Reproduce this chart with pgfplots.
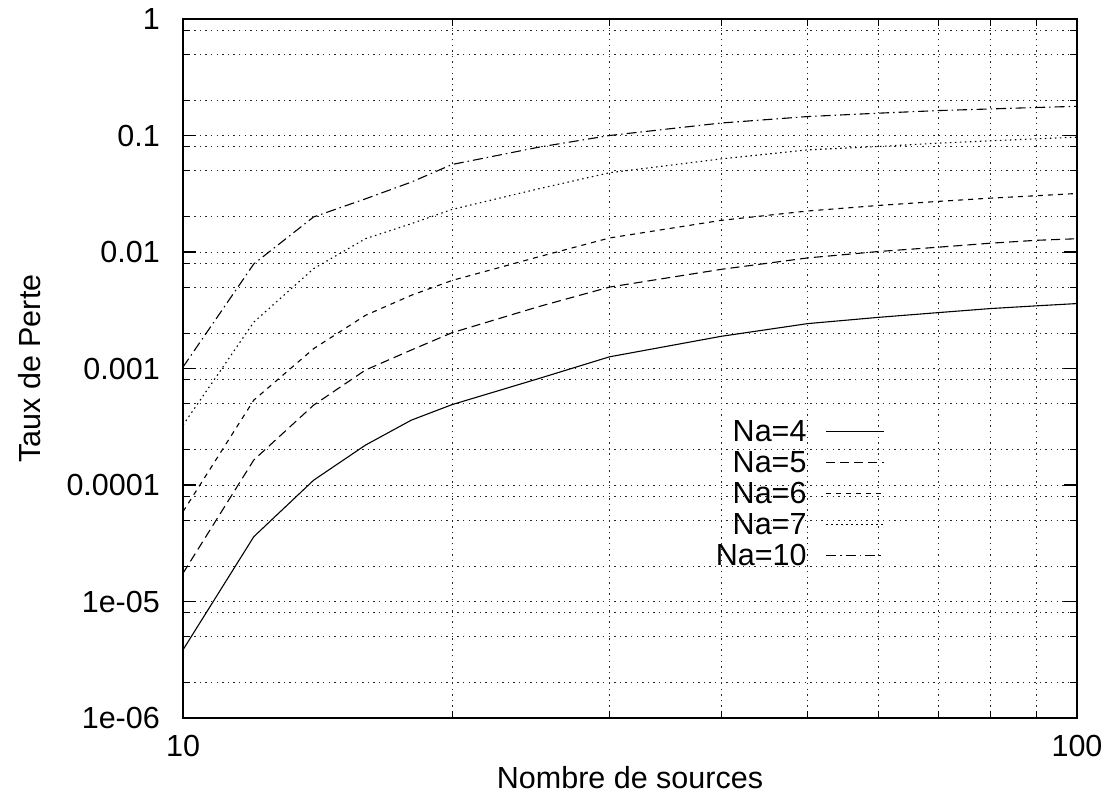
\documentclass[border=0pt]{standalone}
\usepackage{fontspec}
\setmainfont{Liberation Sans}
\usepackage{pgfplots}
\pgfplotsset{compat=1.18}
\pgfplotsset{
  legend image code/.code={\draw[#1] (0bp,4bp) -- (58bp,4bp);},
}
\newcommand{\bigf}{\fontsize{30.5bp}{34bp}\selectfont}
\begin{document}
\begin{tikzpicture}
\useasboundingbox (-183bp,-78bp) rectangle (927bp,718bp);
\begin{axis}[
  at={(0,0)}, anchor=south west,
  scale only axis,
  width=894bp, height=699bp,
  xmode=log, ymode=log,
  xmin=10, xmax=100, ymin=1e-6, ymax=1,
  xtick={10,100}, xticklabels={10,100},
  minor xtick={20,30,40,50,60,70,80,90},
  ytick={1e-6,1e-5,1e-4,1e-3,1e-2,1e-1,1},
  yticklabels={1e-06,1e-05,0.0001,0.001,0.01,0.1,1},
  minor ytick={2e-6,5e-6,8e-6,2e-5,5e-5,8e-5,2e-4,5e-4,8e-4,2e-3,5e-3,8e-3,2e-2,5e-2,8e-2,0.2,0.5,0.8},
  /pgf/number format/assume math mode=true,
  grid=both,
  major grid style={black!85, line width=0.9bp, dash pattern=on 1.4bp off 4.2bp},
  minor grid style={black!85, line width=0.9bp, dash pattern=on 1.4bp off 4.2bp},
  major tick length=13bp, minor tick length=7bp,
  every major tick/.append style={line width=1.6bp, black},
  every minor tick/.append style={line width=1.1bp, black},
  axis line style={line width=1.6bp},
  tick label style={font=\bigf},
  xticklabel style={anchor=north, inner sep=0pt, yshift=-17bp},
  yticklabel style={anchor=east, inner sep=0pt, xshift=-23bp},
  xlabel={Nombre de sources},
  ylabel={Taux de Perte},
  label style={font=\bigf},
  xlabel style={at={(axis description cs:0.5,0)}, anchor=base, inner sep=0pt, yshift=-70bp},
  ylabel style={at={(axis description cs:-0.1711,0.5)}, anchor=center},
  legend plot pos=right,
  legend cell align=right,
  legend style={draw=none, fill=none, font=\bigf, inner sep=0pt,
    at={(0.785,0.427)}, anchor=north east,
    column sep=19bp, row sep=0bp,
    nodes={inner sep=0pt, text height=22bp, text depth=9bp}},
]
\addplot[black, line width=1.1bp] coordinates {
(10,3.85e-6) (12,3.6e-5) (14,1.1e-4) (16,2.2e-4) (18,3.6e-4) (20,4.9e-4)
(25,8.2e-4) (30,1.26e-3) (40,1.89e-3) (50,2.43e-3) (60,2.75e-3) (70,3.02e-3)
(80,3.27e-3) (90,3.45e-3) (100,3.61e-3)};
\addlegendentry{Na=4}
\addplot[black, line width=1.1bp, dash pattern=on 9bp off 5bp] coordinates {
(10,1.75e-5) (12,1.64e-4) (14,4.85e-4) (16,9.7e-4) (18,1.44e-3) (20,2.03e-3)
(25,3.4e-3) (30,5.0e-3) (40,7.1e-3) (50,8.9e-3) (60,1.01e-2) (70,1.10e-2)
(80,1.19e-2) (90,1.26e-2) (100,1.30e-2)};
\addlegendentry{Na=5}
\addplot[black, line width=1.1bp, dash pattern=on 5bp off 5bp] coordinates {
(10,5.9e-5) (12,5.35e-4) (14,1.48e-3) (16,2.86e-3) (18,4.25e-3) (20,5.7e-3)
(25,9.1e-3) (30,1.32e-2) (40,1.87e-2) (50,2.25e-2) (60,2.51e-2) (70,2.72e-2)
(80,2.90e-2) (90,3.04e-2) (100,3.18e-2)};
\addlegendentry{Na=6}
\addplot[black, line width=1.1bp, dash pattern=on 1.5bp off 3.5bp] coordinates {
(10,3.27e-4) (12,2.5e-3) (14,7.2e-3) (16,1.3e-2) (18,1.75e-2) (20,2.32e-2)
(25,3.49e-2) (30,4.79e-2) (40,6.3e-2) (50,7.53e-2) (60,8.05e-2) (70,8.6e-2)
(80,9.0e-2) (90,9.36e-2) (100,9.68e-2)};
\addlegendentry{Na=7}
\addplot[black, line width=1.1bp, dash pattern=on 10bp off 4bp on 1.5bp off 4bp] coordinates {
(10,1.03e-3) (12,7.9e-3) (14,2.0e-2) (16,2.86e-2) (18,3.98e-2) (20,5.64e-2)
(25,7.94e-2) (30,0.1) (40,0.128) (50,0.1455) (60,0.1555) (70,0.1637)
(80,0.169) (90,0.174) (100,0.178)};
\addlegendentry{Na=10}
\end{axis}
\end{tikzpicture}
\end{document}
